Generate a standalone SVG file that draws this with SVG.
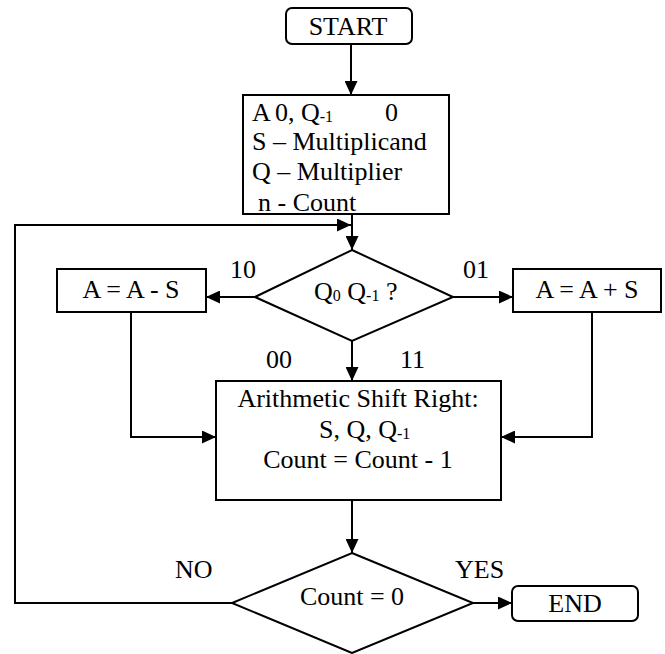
<svg xmlns="http://www.w3.org/2000/svg" width="665" height="654" viewBox="0 0 665 654">
<style>
text{font-family:"Liberation Serif","Times New Roman",serif;font-size:26px;fill:#000}
.sub{font-size:16px}
.box{fill:#fff;stroke:#000;stroke-width:2}
.con{fill:none;stroke:#000;stroke-width:2}
.c{text-anchor:middle}
</style>
<defs>
<marker id="arr" markerUnits="userSpaceOnUse" markerWidth="14" markerHeight="13" refX="14" refY="6.5" orient="auto">
<path d="M0,0 L14,6.5 L0,13 z" fill="#000"/>
</marker>
</defs>
<rect width="665" height="654" fill="#fff"/>
<g id="connectors">
<line class="con" x1="351" y1="44" x2="351" y2="95" marker-end="url(#arr)"/>
<line class="con" x1="352" y1="214" x2="352" y2="250" marker-end="url(#arr)"/>
<polyline class="con" points="232,603 15,603 15,225 351,225" marker-end="url(#arr)"/>
<line class="con" x1="255" y1="297" x2="206" y2="297" marker-end="url(#arr)"/>
<line class="con" x1="453" y1="297" x2="513" y2="297" marker-end="url(#arr)"/>
<line class="con" x1="352" y1="341" x2="352" y2="381" marker-end="url(#arr)"/>
<polyline class="con" points="131,312 131,437 216,437" marker-end="url(#arr)"/>
<polyline class="con" points="592,312 592,437 501,437" marker-end="url(#arr)"/>
<line class="con" x1="352" y1="500" x2="352" y2="553" marker-end="url(#arr)"/>
<line class="con" x1="473" y1="603" x2="512" y2="603" marker-end="url(#arr)"/>
</g>
<g id="start">
<rect class="box" x="286" y="8" width="126" height="36" rx="6"/>
<text class="c" x="348" y="35">START</text>
</g>
<g id="init">
<rect class="box" x="243" y="95" width="206" height="119"/>
<text x="252" y="121">A</text>
<text x="275" y="121">0, Q<tspan class="sub" dy="1">-1</tspan></text>
<text x="385" y="121">0</text>
<text x="252" y="150">S – Multiplicand</text>
<text x="252" y="180">Q – Multiplier</text>
<text x="258" y="211">n - Count</text>
</g>
<g id="decision1">
<polygon class="box" points="352,250 453,297 352,341 255,297"/>
<text x="314" y="300">Q<tspan class="sub" dy="1">0</tspan><tspan dy="-1"> Q</tspan><tspan class="sub" dy="1">-1</tspan><tspan dy="-1"> ?</tspan></text>
</g>
<g id="sub">
<rect class="box" x="57" y="269" width="149" height="43"/>
<text class="c" x="131" y="298">A = A - S</text>
</g>
<g id="add">
<rect class="box" x="513" y="269" width="148" height="43"/>
<text class="c" x="587" y="298">A = A + S</text>
</g>
<g id="shift">
<rect class="box" x="216" y="381" width="285" height="119"/>
<text class="c" x="358" y="407">Arithmetic Shift Right:</text>
<text x="319" y="438">S, Q, Q<tspan class="sub" dy="1">-1</tspan></text>
<text class="c" x="358" y="468">Count = Count - 1</text>
</g>
<g id="decision2">
<polygon class="box" points="352,553 473,603 352,653 232,603"/>
<text class="c" x="352" y="605">Count = 0</text>
</g>
<g id="end">
<rect class="box" x="512" y="586" width="126" height="35" rx="6"/>
<text class="c" x="575" y="612">END</text>
</g>
<g id="labels">
<text x="230" y="278">10</text>
<text x="463" y="278">01</text>
<text x="266" y="368">00</text>
<text x="400" y="368">11</text>
<text x="175" y="578">NO</text>
<text x="455" y="578">YES</text>
</g>
</svg>
